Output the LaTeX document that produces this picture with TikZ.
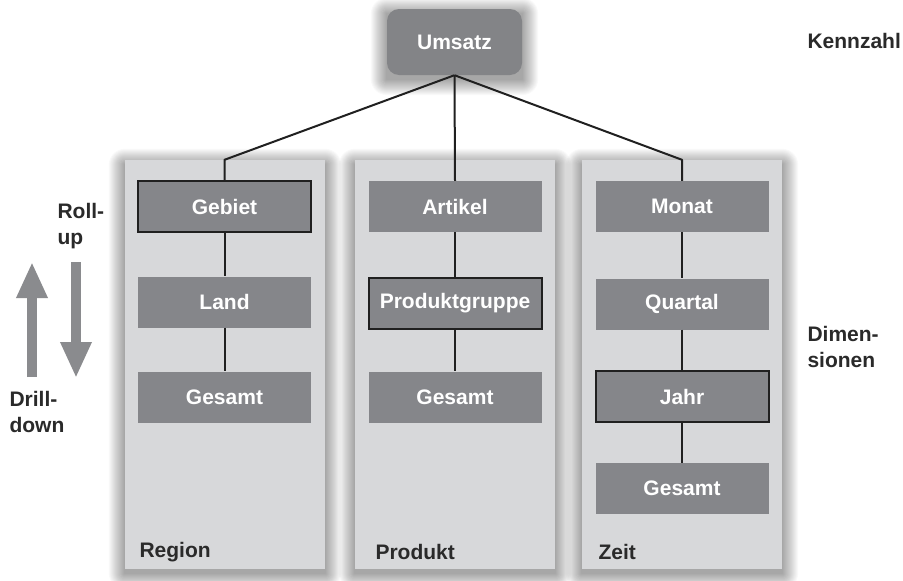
\documentclass[tikz,border=0pt]{standalone}
\usepackage{fontspec}
\setmainfont{Liberation Sans}
\usetikzlibrary{arrows.meta,calc}
\definecolor{panelbg}{HTML}{D7D8DA}
\definecolor{boxfill}{HTML}{85868A}
\definecolor{topfill}{HTML}{838487}
\definecolor{linecol}{HTML}{202020}
\definecolor{textdark}{HTML}{2A2A2A}
\definecolor{arrowcol}{HTML}{8A8B8E}
\pgfdeclarelayer{background}
\pgfsetlayers{background,main}
\begin{document}
\begin{tikzpicture}[x=1pt,y=-1pt,
  lbl/.style={font=\fontsize{21}{26}\selectfont\bfseries},
  panel/.style={fill=panelbg, minimum width=200pt, minimum height=409pt, inner sep=0pt},
  lvl/.style={fill=boxfill, minimum width=173pt, minimum height=51pt, inner sep=0pt, text=white, lbl},
  sel/.style={lvl, draw=linecol, line width=2pt},
  topbox/.style={fill=topfill, rounded corners=12pt, minimum width=135pt, minimum height=66pt, inner sep=0pt, text=white, lbl},
  side/.style={lbl, text=textdark, align=left, anchor=west},
  conn/.style={draw=linecol, line width=2pt, line join=round},
  bigarrow/.style={draw=arrowcol, line width=10pt, -{Triangle[width=29pt,length=36pt]}}
]
\begin{pgfonlayer}{background}
\fill[white] (0,0) rectangle (903,581);
\end{pgfonlayer}
\useasboundingbox (0,0) rectangle (903,581);

% panels
\node[panel] (reg) at (225,364.5) {};
\node[panel] (pro) at (455,364.5) {};
\node[panel] (zei) at (682,364.5) {};

% top node
\node[topbox] (ums) at (454.5,42) {Umsatz};

% soft shadows
\begin{pgfonlayer}{background}
\foreach \p in {reg,pro,zei,ums} {
  \foreach \i in {1,...,16} {
    \fill[black,opacity=0.022,rounded corners=\i pt]
      ([shift={(-\i pt,\i pt-5pt)}]\p.north west) rectangle ([shift={(\i pt,-\i pt-4pt)}]\p.south east);
  }
}
\end{pgfonlayer}

% panel labels
\node[side] (lreg) at (136,552) {Region};
\node[side] (lpro) at (372,552) {Produkt};
\node[side] (lzei) at (595,552) {Zeit};

% level boxes
\node[sel] (geb) at (224.5,206.5) {Gebiet};
\node[lvl] (land) at (224.5,302) {Land};
\node[lvl] (gesr) at (224.5,397) {Gesamt};
\node[lvl] (art) at (455,206.5) {Artikel};
\node[sel] (pgr) at (455,303) {Produktgruppe};
\node[lvl] (gesp) at (455,397) {Gesamt};
\node[lvl] (mon) at (682,206.5) {Monat};
\node[lvl] (qua) at (682,304) {Quartal};
\node[sel] (jahr) at (682,396.5) {Jahr};
\node[lvl] (gesz) at (682,488.5) {Gesamt};

% connectors
\coordinate (jr) at (geb.north |- reg.north);
\coordinate (jz) at (mon.north |- zei.north);
\draw[conn] (ums.south) -- (jr) -- (geb.north);
\draw[conn] (ums.south) -- (art.north);
\draw[conn] (ums.south) -- (jz) -- (mon.north);
\draw[conn] (geb) -- (land);
\draw[conn] (land) -- (gesr);
\draw[conn] (art) -- (pgr);
\draw[conn] (pgr) -- (gesp);
\draw[conn] (mon) -- (qua);
\draw[conn] (qua) -- (jahr);
\draw[conn] (jahr) -- (gesz);

% side labels
\node[side] (kz) at (804,41) {Kennzahl};
\node[side] (dim) at (804,347) {Dimen-\\sionen};
\node[side] (ru) at (54,226) {Roll-\\up};
\node[side] (dd) at (6,412) {Drill-\\down};

% roll-up / drill-down arrows
\coordinate (ua) at (32,377);
\coordinate (ub) at (32,262);
\coordinate (da) at (76,262);
\coordinate (db) at (76,378);
\draw[bigarrow] (ua) -- (ub);
\draw[bigarrow] (da) -- (db);
\end{tikzpicture}
\end{document}
